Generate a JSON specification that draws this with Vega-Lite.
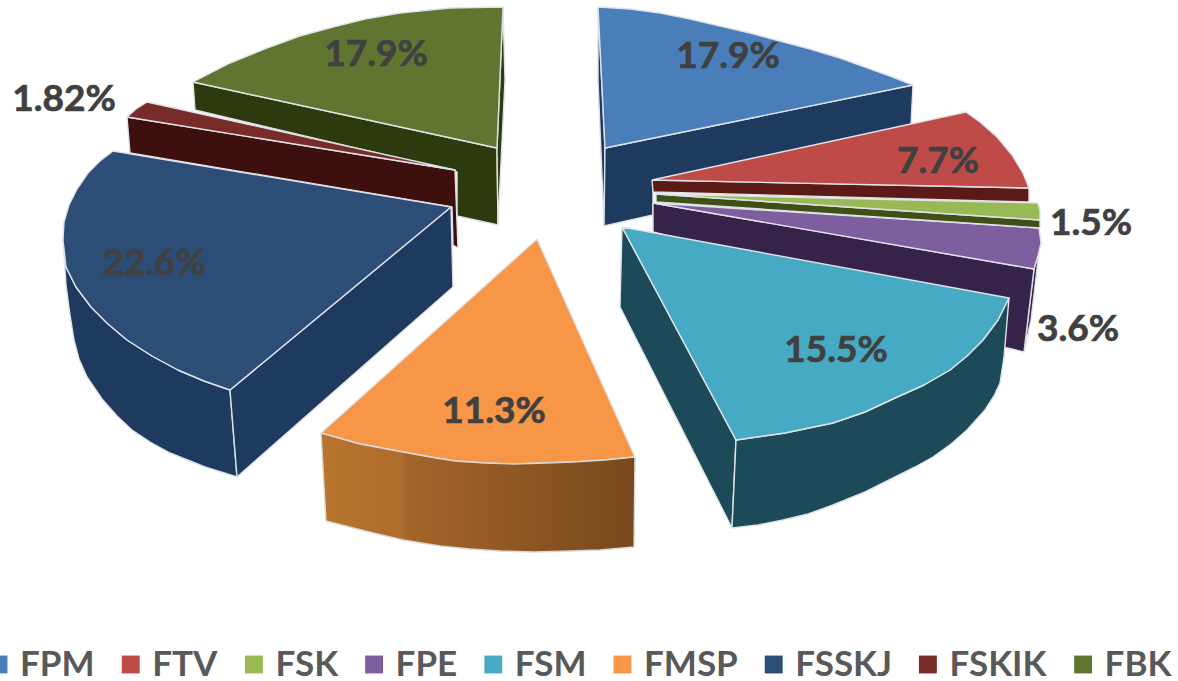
{
"$schema":"https://vega.github.io/schema/vega-lite/v6.json",
"width":1178,"height":681,"padding":0,"autosize":{"type":"none"},
"background":"white",
"config":{"view":{"stroke":null}},
"datasets":{
"labels":[
{"slice":"FPM","share":"17.9%","x":728,"y":55},
{"slice":"FTV","share":"7.7%","x":938,"y":160},
{"slice":"FSK","share":"1.5%","x":1091,"y":222},
{"slice":"FPE","share":"3.6%","x":1078,"y":328},
{"slice":"FSM","share":"15.5%","x":836,"y":349},
{"slice":"FMSP","share":"11.3%","x":494,"y":410},
{"slice":"FSSKJ","share":"22.6%","x":154,"y":262},
{"slice":"FSKIK","share":"1.82%","x":64,"y":98},
{"slice":"FBK","share":"17.9%","x":376,"y":53}
],
"faces":[
{"f":"FBK side","g":"a1","i":0,"x":193,"y":82},{"f":"FBK side","g":"a1","i":1,"x":497,"y":148},{"f":"FBK side","g":"a1","i":2,"x":498,"y":225},{"f":"FBK side","g":"a1","i":3,"x":457,"y":216},{"f":"FBK side","g":"a1","i":4,"x":457,"y":172},{"f":"FBK side","g":"a1","i":5,"x":195,"y":110},{"f":"FBK side","g":"a1","i":6,"x":193,"y":82},
{"f":"FBK side","g":"a2","i":0,"x":503,"y":7},{"f":"FBK side","g":"a2","i":1,"x":505,"y":80},{"f":"FBK side","g":"a2","i":2,"x":498,"y":225},{"f":"FBK side","g":"a2","i":3,"x":497,"y":148},{"f":"FBK side","g":"a2","i":4,"x":503,"y":7},
{"f":"FBK","g":"a3","i":0,"x":503,"y":7},{"f":"FBK","g":"a3","i":1,"x":450,"y":8},{"f":"FBK","g":"a3","i":2,"x":400,"y":13},{"f":"FBK","g":"a3","i":3,"x":365,"y":19},{"f":"FBK","g":"a3","i":4,"x":333,"y":27},{"f":"FBK","g":"a3","i":5,"x":300,"y":36},{"f":"FBK","g":"a3","i":6,"x":267,"y":48},{"f":"FBK","g":"a3","i":7,"x":230,"y":63},{"f":"FBK","g":"a3","i":8,"x":193,"y":82},{"f":"FBK","g":"a3","i":9,"x":497,"y":148},{"f":"FBK","g":"a3","i":10,"x":503,"y":7},
{"f":"FSKIK side","g":"b1","i":0,"x":127,"y":117},{"f":"FSKIK side","g":"b1","i":1,"x":455,"y":170},{"f":"FSKIK side","g":"b1","i":2,"x":458,"y":248},{"f":"FSKIK side","g":"b1","i":3,"x":453,"y":245},{"f":"FSKIK side","g":"b1","i":4,"x":452,"y":207},{"f":"FSKIK side","g":"b1","i":5,"x":130,"y":153},{"f":"FSKIK side","g":"b1","i":6,"x":127,"y":117},
{"f":"FSKIK","g":"b2","i":0,"x":147,"y":102},{"f":"FSKIK","g":"b2","i":1,"x":136,"y":109},{"f":"FSKIK","g":"b2","i":2,"x":127,"y":117},{"f":"FSKIK","g":"b2","i":3,"x":455,"y":170},{"f":"FSKIK","g":"b2","i":4,"x":147,"y":102},
{"f":"FSSKJ side","g":"c1","i":0,"x":63,"y":240},{"f":"FSSKJ side","g":"c1","i":1,"x":66,"y":267},{"f":"FSSKJ side","g":"c1","i":2,"x":76,"y":287},{"f":"FSSKJ side","g":"c1","i":3,"x":91,"y":307},{"f":"FSSKJ side","g":"c1","i":4,"x":108,"y":324},{"f":"FSSKJ side","g":"c1","i":5,"x":127,"y":340},{"f":"FSSKJ side","g":"c1","i":6,"x":152,"y":356},{"f":"FSSKJ side","g":"c1","i":7,"x":178,"y":370},{"f":"FSSKJ side","g":"c1","i":8,"x":204,"y":381},{"f":"FSSKJ side","g":"c1","i":9,"x":230,"y":390},{"f":"FSSKJ side","g":"c1","i":10,"x":237,"y":477},{"f":"FSSKJ side","g":"c1","i":11,"x":205,"y":467},{"f":"FSSKJ side","g":"c1","i":12,"x":170,"y":453},{"f":"FSSKJ side","g":"c1","i":13,"x":150,"y":442},{"f":"FSSKJ side","g":"c1","i":14,"x":132,"y":430},{"f":"FSSKJ side","g":"c1","i":15,"x":117,"y":416},{"f":"FSSKJ side","g":"c1","i":16,"x":102,"y":399},{"f":"FSSKJ side","g":"c1","i":17,"x":87,"y":377},{"f":"FSSKJ side","g":"c1","i":18,"x":79,"y":359},{"f":"FSSKJ side","g":"c1","i":19,"x":74,"y":340},{"f":"FSSKJ side","g":"c1","i":20,"x":70,"y":315},{"f":"FSSKJ side","g":"c1","i":21,"x":66,"y":285},{"f":"FSSKJ side","g":"c1","i":22,"x":63,"y":240},
{"f":"FSSKJ side","g":"c2","i":0,"x":230,"y":390},{"f":"FSSKJ side","g":"c2","i":1,"x":451,"y":207},{"f":"FSSKJ side","g":"c2","i":2,"x":453,"y":287},{"f":"FSSKJ side","g":"c2","i":3,"x":237,"y":477},{"f":"FSSKJ side","g":"c2","i":4,"x":230,"y":390},
{"f":"FSSKJ","g":"c3","i":0,"x":113,"y":151},{"f":"FSSKJ","g":"c3","i":1,"x":100,"y":161},{"f":"FSSKJ","g":"c3","i":2,"x":88,"y":173},{"f":"FSSKJ","g":"c3","i":3,"x":77,"y":189},{"f":"FSSKJ","g":"c3","i":4,"x":69,"y":205},{"f":"FSSKJ","g":"c3","i":5,"x":64,"y":222},{"f":"FSSKJ","g":"c3","i":6,"x":63,"y":240},{"f":"FSSKJ","g":"c3","i":7,"x":66,"y":267},{"f":"FSSKJ","g":"c3","i":8,"x":76,"y":287},{"f":"FSSKJ","g":"c3","i":9,"x":91,"y":307},{"f":"FSSKJ","g":"c3","i":10,"x":108,"y":324},{"f":"FSSKJ","g":"c3","i":11,"x":127,"y":340},{"f":"FSSKJ","g":"c3","i":12,"x":152,"y":356},{"f":"FSSKJ","g":"c3","i":13,"x":178,"y":370},{"f":"FSSKJ","g":"c3","i":14,"x":204,"y":381},{"f":"FSSKJ","g":"c3","i":15,"x":230,"y":390},{"f":"FSSKJ","g":"c3","i":16,"x":451,"y":207},{"f":"FSSKJ","g":"c3","i":17,"x":113,"y":151},
{"f":"FPM side","g":"d1","i":0,"x":598,"y":7},{"f":"FPM side","g":"d1","i":1,"x":605,"y":148},{"f":"FPM side","g":"d1","i":2,"x":604,"y":226},{"f":"FPM side","g":"d1","i":3,"x":598,"y":80},{"f":"FPM side","g":"d1","i":4,"x":598,"y":7},
{"f":"FPM side","g":"d2","i":0,"x":605,"y":148},{"f":"FPM side","g":"d2","i":1,"x":913,"y":85},{"f":"FPM side","g":"d2","i":2,"x":911,"y":125},{"f":"FPM side","g":"d2","i":3,"x":653,"y":181},{"f":"FPM side","g":"d2","i":4,"x":653,"y":215},{"f":"FPM side","g":"d2","i":5,"x":604,"y":226},{"f":"FPM side","g":"d2","i":6,"x":605,"y":148},
{"f":"FPM","g":"d3","i":0,"x":598,"y":7},{"f":"FPM","g":"d3","i":1,"x":630,"y":9},{"f":"FPM","g":"d3","i":2,"x":660,"y":13},{"f":"FPM","g":"d3","i":3,"x":690,"y":19},{"f":"FPM","g":"d3","i":4,"x":720,"y":26},{"f":"FPM","g":"d3","i":5,"x":750,"y":33},{"f":"FPM","g":"d3","i":6,"x":780,"y":41},{"f":"FPM","g":"d3","i":7,"x":810,"y":49},{"f":"FPM","g":"d3","i":8,"x":840,"y":58},{"f":"FPM","g":"d3","i":9,"x":865,"y":67},{"f":"FPM","g":"d3","i":10,"x":890,"y":76},{"f":"FPM","g":"d3","i":11,"x":913,"y":85},{"f":"FPM","g":"d3","i":12,"x":605,"y":148},{"f":"FPM","g":"d3","i":13,"x":598,"y":7},
{"f":"FTV side","g":"e1","i":0,"x":652,"y":180},{"f":"FTV side","g":"e1","i":1,"x":1029,"y":188},{"f":"FTV side","g":"e1","i":2,"x":1029,"y":202},{"f":"FTV side","g":"e1","i":3,"x":653,"y":192},{"f":"FTV side","g":"e1","i":4,"x":652,"y":180},
{"f":"FTV","g":"e2","i":0,"x":652,"y":180},{"f":"FTV","g":"e2","i":1,"x":966,"y":112},{"f":"FTV","g":"e2","i":2,"x":980,"y":122},{"f":"FTV","g":"e2","i":3,"x":997,"y":137},{"f":"FTV","g":"e2","i":4,"x":1012,"y":155},{"f":"FTV","g":"e2","i":5,"x":1023,"y":173},{"f":"FTV","g":"e2","i":6,"x":1029,"y":188},{"f":"FTV","g":"e2","i":7,"x":652,"y":180},
{"f":"FPE side","g":"f1","i":0,"x":1034,"y":269},{"f":"FPE side","g":"f1","i":1,"x":1040,"y":243},{"f":"FPE side","g":"f1","i":2,"x":1031,"y":320},{"f":"FPE side","g":"f1","i":3,"x":1024,"y":352},{"f":"FPE side","g":"f1","i":4,"x":1034,"y":269},
{"f":"FPE side","g":"f2","i":0,"x":653,"y":203},{"f":"FPE side","g":"f2","i":1,"x":1034,"y":269},{"f":"FPE side","g":"f2","i":2,"x":1024,"y":352},{"f":"FPE side","g":"f2","i":3,"x":1003,"y":347},{"f":"FPE side","g":"f2","i":4,"x":1003,"y":320},{"f":"FPE side","g":"f2","i":5,"x":653,"y":232},{"f":"FPE side","g":"f2","i":6,"x":653,"y":203},
{"f":"FPE","g":"f3","i":0,"x":653,"y":203},{"f":"FPE","g":"f3","i":1,"x":1039,"y":228},{"f":"FPE","g":"f3","i":2,"x":1041,"y":243},{"f":"FPE","g":"f3","i":3,"x":1038,"y":256},{"f":"FPE","g":"f3","i":4,"x":1034,"y":269},{"f":"FPE","g":"f3","i":5,"x":653,"y":203},
{"f":"FSK side","g":"h1","i":0,"x":656,"y":194},{"f":"FSK side","g":"h1","i":1,"x":1040,"y":220},{"f":"FSK side","g":"h1","i":2,"x":1040,"y":228},{"f":"FSK side","g":"h1","i":3,"x":656,"y":202},{"f":"FSK side","g":"h1","i":4,"x":656,"y":194},
{"f":"FSK","g":"h2","i":0,"x":656,"y":194},{"f":"FSK","g":"h2","i":1,"x":1038,"y":203},{"f":"FSK","g":"h2","i":2,"x":1040,"y":211},{"f":"FSK","g":"h2","i":3,"x":1040,"y":220},{"f":"FSK","g":"h2","i":4,"x":656,"y":194},
{"f":"FSM side","g":"j1","i":0,"x":622,"y":227},{"f":"FSM side","g":"j1","i":1,"x":736,"y":440},{"f":"FSM side","g":"j1","i":2,"x":732,"y":528},{"f":"FSM side","g":"j1","i":3,"x":620,"y":307},{"f":"FSM side","g":"j1","i":4,"x":622,"y":227},
{"f":"FSM side","g":"j2","i":0,"x":736,"y":440},{"f":"FSM side","g":"j2","i":1,"x":785,"y":433},{"f":"FSM side","g":"j2","i":2,"x":833,"y":423},{"f":"FSM side","g":"j2","i":3,"x":865,"y":412},{"f":"FSM side","g":"j2","i":4,"x":895,"y":398},{"f":"FSM side","g":"j2","i":5,"x":924,"y":385},{"f":"FSM side","g":"j2","i":6,"x":950,"y":370},{"f":"FSM side","g":"j2","i":7,"x":967,"y":356},{"f":"FSM side","g":"j2","i":8,"x":983,"y":340},{"f":"FSM side","g":"j2","i":9,"x":998,"y":320},{"f":"FSM side","g":"j2","i":10,"x":1009,"y":298},{"f":"FSM side","g":"j2","i":11,"x":1004,"y":357},{"f":"FSM side","g":"j2","i":12,"x":1000,"y":383},{"f":"FSM side","g":"j2","i":13,"x":994,"y":396},{"f":"FSM side","g":"j2","i":14,"x":985,"y":410},{"f":"FSM side","g":"j2","i":15,"x":967,"y":430},{"f":"FSM side","g":"j2","i":16,"x":951,"y":444},{"f":"FSM side","g":"j2","i":17,"x":933,"y":457},{"f":"FSM side","g":"j2","i":18,"x":915,"y":467},{"f":"FSM side","g":"j2","i":19,"x":895,"y":477},{"f":"FSM side","g":"j2","i":20,"x":865,"y":492},{"f":"FSM side","g":"j2","i":21,"x":833,"y":505},{"f":"FSM side","g":"j2","i":22,"x":808,"y":514},{"f":"FSM side","g":"j2","i":23,"x":783,"y":520},{"f":"FSM side","g":"j2","i":24,"x":758,"y":525},{"f":"FSM side","g":"j2","i":25,"x":732,"y":528},{"f":"FSM side","g":"j2","i":26,"x":736,"y":440},
{"f":"FSM","g":"j3","i":0,"x":622,"y":227},{"f":"FSM","g":"j3","i":1,"x":1009,"y":298},{"f":"FSM","g":"j3","i":2,"x":998,"y":320},{"f":"FSM","g":"j3","i":3,"x":983,"y":340},{"f":"FSM","g":"j3","i":4,"x":967,"y":356},{"f":"FSM","g":"j3","i":5,"x":950,"y":370},{"f":"FSM","g":"j3","i":6,"x":924,"y":385},{"f":"FSM","g":"j3","i":7,"x":895,"y":398},{"f":"FSM","g":"j3","i":8,"x":865,"y":412},{"f":"FSM","g":"j3","i":9,"x":833,"y":423},{"f":"FSM","g":"j3","i":10,"x":785,"y":433},{"f":"FSM","g":"j3","i":11,"x":736,"y":440},{"f":"FSM","g":"j3","i":12,"x":622,"y":227},
{"f":"FMSP","g":"k1","i":0,"x":537,"y":239},{"f":"FMSP","g":"k1","i":1,"x":635,"y":457},{"f":"FMSP","g":"k1","i":2,"x":605,"y":460},{"f":"FMSP","g":"k1","i":3,"x":573,"y":462},{"f":"FMSP","g":"k1","i":4,"x":545,"y":463},{"f":"FMSP","g":"k1","i":5,"x":514,"y":464},{"f":"FMSP","g":"k1","i":6,"x":485,"y":463},{"f":"FMSP","g":"k1","i":7,"x":455,"y":461},{"f":"FMSP","g":"k1","i":8,"x":430,"y":457},{"f":"FMSP","g":"k1","i":9,"x":403,"y":452},{"f":"FMSP","g":"k1","i":10,"x":360,"y":444},{"f":"FMSP","g":"k1","i":11,"x":321,"y":433},{"f":"FMSP","g":"k1","i":12,"x":537,"y":239},
{"f":"FMSP side","g":"k2","i":0,"x":321,"y":433},{"f":"FMSP side","g":"k2","i":1,"x":360,"y":444},{"f":"FMSP side","g":"k2","i":2,"x":403,"y":452},{"f":"FMSP side","g":"k2","i":3,"x":430,"y":457},{"f":"FMSP side","g":"k2","i":4,"x":455,"y":461},{"f":"FMSP side","g":"k2","i":5,"x":485,"y":463},{"f":"FMSP side","g":"k2","i":6,"x":514,"y":464},{"f":"FMSP side","g":"k2","i":7,"x":545,"y":463},{"f":"FMSP side","g":"k2","i":8,"x":573,"y":462},{"f":"FMSP side","g":"k2","i":9,"x":605,"y":460},{"f":"FMSP side","g":"k2","i":10,"x":635,"y":457},{"f":"FMSP side","g":"k2","i":11,"x":634,"y":547},{"f":"FMSP side","g":"k2","i":12,"x":600,"y":550},{"f":"FMSP side","g":"k2","i":13,"x":570,"y":551},{"f":"FMSP side","g":"k2","i":14,"x":535,"y":552},{"f":"FMSP side","g":"k2","i":15,"x":500,"y":551},{"f":"FMSP side","g":"k2","i":16,"x":470,"y":549},{"f":"FMSP side","g":"k2","i":17,"x":440,"y":546},{"f":"FMSP side","g":"k2","i":18,"x":403,"y":540},{"f":"FMSP side","g":"k2","i":19,"x":365,"y":531},{"f":"FMSP side","g":"k2","i":20,"x":326,"y":521},{"f":"FMSP side","g":"k2","i":21,"x":321,"y":433}
]},
"encoding":{
"x":{"field":"x","type":"quantitative","scale":{"domain":[0,1178],"nice":false,"zero":false},"axis":null},
"y":{"field":"y","type":"quantitative","scale":{"domain":[681,0],"nice":false,"zero":false},"axis":null}
},
"layer":[
{"data":{"name":"faces"},
"transform":[{"filter":"datum.f !== 'FMSP side'"}],
"mark":{"type":"line","interpolate":"linear","stroke":"#dfe3e8","strokeWidth":1.4,"strokeJoin":"round","clip":false},
"encoding":{
"detail":{"field":"g"},
"order":{"field":"i","type":"quantitative"},
"fill":{"field":"f","type":"nominal",
"scale":{
"domain":["FPM","FTV","FSK","FPE","FSM","FMSP","FSSKJ","FSKIK","FBK","FPM side","FTV side","FSK side","FPE side","FSM side","FSSKJ side","FSKIK side","FBK side"],
"range":["#4a7ebb","#be4b48","#98b954","#7d5fa0","#46aac5","#f79646","#2c4d75","#772c2a","#5f7530","#1f3a5f","#5c1a17","#3f5016","#35234a","#1c4a58","#1e3a5e","#3d0f0e","#2c3a0e"]},
"legend":{"values":["FPM","FTV","FSK","FPE","FSM","FMSP","FSSKJ","FSKIK","FBK"],
"title":null,"orient":"none","legendX":-19,"legendY":647,"direction":"horizontal","columns":9,"gridAlign":"none",
"symbolType":"square","symbolSize":320,"symbolStrokeWidth":0,"labelFont":"Lato","labelFontWeight":"bold","labelFontSize":35,"labelColor":"#595959","labelOffset":4,"columnPadding":18.2,"labelLimit":300,"symbolOpacity":1}}
}},
{"data":{"name":"faces"},
"transform":[{"filter":"datum.f === 'FMSP side'"}],
"mark":{"type":"line","interpolate":"linear","stroke":"#d9d9d9","strokeWidth":1.4,"strokeJoin":"round",
"fill":{"gradient":"linear","x1":0,"x2":1,"y1":0,"y2":0,"stops":[{"offset":0,"color":"#b9752d"},{"offset":0.26,"color":"#ad6c2b"},{"offset":0.27,"color":"#a5652a"},{"offset":1,"color":"#78481c"}]}},
"encoding":{"detail":{"field":"g"},"order":{"field":"i","type":"quantitative"}}},
{"data":{"name":"labels"},
"mark":{"type":"text","font":"Lato","fontWeight":"bold","fontSize":37,"color":"#404040","stroke":"#404040","strokeWidth":0.7,"align":"center","baseline":"middle","dy":1.5},
"encoding":{"text":{"field":"share","type":"nominal"}}}
]
}
